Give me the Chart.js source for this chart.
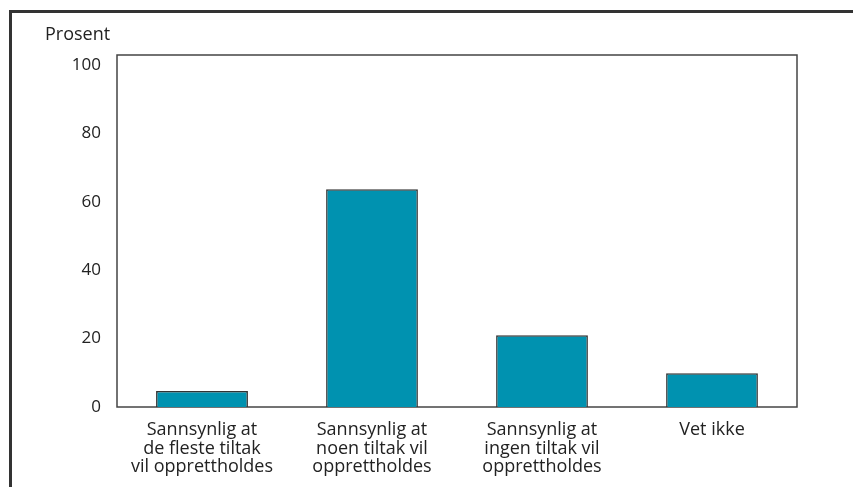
<!DOCTYPE html>
<html>
<head>
<meta charset="utf-8">
<script src="https://cdn.jsdelivr.net/npm/chart.js@4"></script>
<style>
    body { margin: 0; background: #fff; overflow: hidden; }
    #wrap { position: relative; width: 853px; height: 487px; }
    #frame {
        position: absolute; left: 9px; top: 10px; width: 900px; height: 520px;
        border-top: 3px solid #333; border-left: 3px solid #333;
    }
    #chart { position: absolute; left: 0; top: 0; }
</style>
</head>
<body>
<div id="wrap">
    <div id="frame"></div>
    <canvas id="chart" width="853" height="487"></canvas>
</div>
<script>
const categories = [
    ['Sannsynlig at', 'de fleste tiltak', 'vil opprettholdes'],
    ['Sannsynlig at', 'noen tiltak vil', 'opprettholdes'],
    ['Sannsynlig at', 'ingen tiltak vil', 'opprettholdes'],
    ['Vet ikke']
];
const percentValues = [4.7, 63.7, 21.0, 9.9];
const yTicks = [0, 20, 40, 60, 80, 100];
const yAxisLabel = 'Prosent';

const fontFamily = '"Open Sans", "Noto Sans", sans-serif';
const textColor = '#222';

// frame around the plot area, drawn under the bars
const plotFrame = {
    id: 'plotFrame',
    beforeDatasetsDraw(chart) {
        const a = chart.chartArea;
        const ctx = chart.ctx;
        ctx.save();
        ctx.strokeStyle = '#444';
        ctx.lineWidth = 1.5;
        ctx.strokeRect(a.left, a.top, a.right - a.left, a.bottom - a.top);
        ctx.restore();
    },
    afterDraw(chart) {
        const ctx = chart.ctx;
        ctx.save();
        ctx.fillStyle = textColor;
        ctx.font = '18px ' + fontFamily;
        ctx.textAlign = 'left';
        ctx.textBaseline = 'middle';
        ctx.fillText(yAxisLabel, 45, 35);
        ctx.restore();
    }
};

new Chart(document.getElementById('chart'), {
    type: 'bar',
    data: {
        labels: categories,
        datasets: [{
            data: percentValues,
            backgroundColor: '#0092B0',
            borderColor: '#333',
            borderWidth: 1.5,
            categoryPercentage: 1,
            barPercentage: 0.54
        }]
    },
    options: {
        responsive: false,
        animation: false,
        layout: { padding: { top: 55, right: 56, left: 0, bottom: 0 } },
        plugins: {
            legend: { display: false },
            tooltip: { enabled: false }
        },
        scales: {
            x: {
                grid: { display: false, drawTicks: false },
                border: { display: false },
                ticks: {
                    color: textColor,
                    font: { family: fontFamily, size: 18, lineHeight: 1.03 },
                    padding: 14,
                    maxRotation: 0,
                    autoSkip: false
                },
                afterFit(scale) { scale.height = 80; }
            },
            y: {
                min: 0,
                max: 103,
                grid: { display: false, drawTicks: false },
                border: { display: false },
                ticks: {
                    stepSize: 20,
                    color: textColor,
                    font: { family: fontFamily, size: 17 },
                    padding: 16
                },
                afterBuildTicks(scale) {
                    scale.ticks = yTicks.map(v => ({ value: v }));
                },
                afterFit(scale) { scale.width = 117; }
            }
        }
    },
    plugins: [plotFrame]
});
</script>
</body>
</html>
